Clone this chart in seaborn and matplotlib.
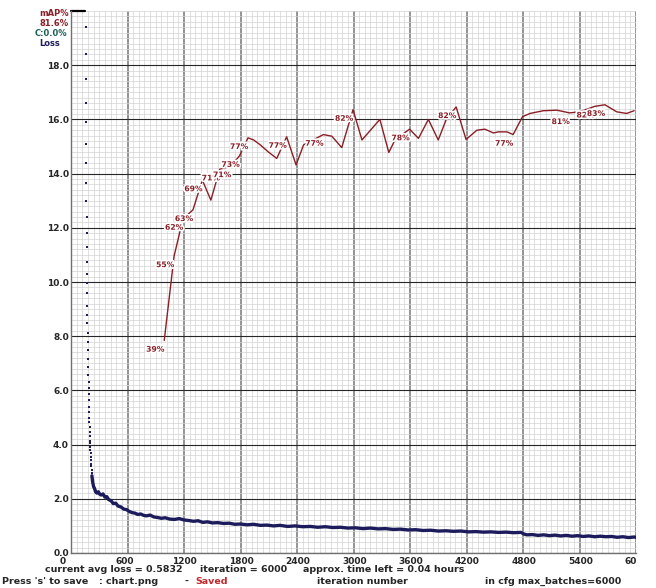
import numpy as np
import pandas as pd
import seaborn as sns
import matplotlib.pyplot as plt
import matplotlib.patheffects as pe
from matplotlib.transforms import ScaledTranslation

# loss of the first iterations (drawn as single dots)
head_iters = [156, 157, 158, 159, 160, 161, 162, 163, 164, 165,
              166, 167, 168, 169, 170, 171, 173, 174, 175, 177,
              178, 180, 181, 183, 184, 186, 187, 189, 190, 192,
              193, 195, 196, 198, 199, 201, 202, 204, 205, 207,
              208, 210, 212, 214, 216, 218, 220]
head_loss = [19.4, 18.4, 17.5, 16.6, 15.9, 15.1, 14.4, 13.65, 13.0, 12.4,
             11.8, 11.3, 10.75, 10.3, 9.95, 9.6, 9.1, 8.8, 8.5, 8.1,
             7.8, 7.5, 7.15, 6.85, 6.55, 6.3, 6.1, 5.85, 5.65, 5.4,
             5.2, 5.0, 4.85, 4.65, 4.45, 4.3, 4.15, 4.05, 3.9, 3.8,
             3.7, 3.55, 3.45, 3.3, 3.2, 3.05, 2.95]

# loss curve after the fast drop
tail_iters = [222, 230, 240, 250, 262, 275, 290, 305, 320, 340,
              360, 380, 400, 425, 450, 475, 500, 530, 560, 590,
              620, 650, 680, 710, 740, 770, 800, 840, 880, 920,
              960, 1000, 1050, 1100, 1150, 1200, 1250, 1300, 1350, 1400,
              1450, 1500, 1560, 1620, 1680, 1740, 1800, 1870, 1940, 2010,
              2080, 2150, 2220, 2300, 2380, 2460, 2540, 2620, 2700, 2780,
              2860, 2940, 3020, 3100, 3180, 3260, 3340, 3420, 3500, 3580,
              3660, 3740, 3820, 3900, 3980, 4060, 4140, 4220, 4300, 4380,
              4460, 4540, 4620, 4700, 4780, 4810, 4840, 4900, 4960, 5020,
              5080, 5140, 5200, 5260, 5320, 5380, 5440, 5500, 5560, 5620,
              5680, 5740, 5800, 5860, 5920, 5980, 6000]
tail_loss = [2.85, 2.62, 2.45, 2.38, 2.25, 2.21, 2.26, 2.17, 2.14, 2.18,
             2.06, 2.08, 1.97, 1.93, 1.82, 1.84, 1.73, 1.70, 1.62, 1.60,
             1.53, 1.49, 1.47, 1.42, 1.44, 1.39, 1.37, 1.40, 1.33, 1.31,
             1.28, 1.30, 1.25, 1.24, 1.27, 1.22, 1.20, 1.17, 1.19, 1.13,
             1.15, 1.11, 1.12, 1.09, 1.10, 1.06, 1.07, 1.04, 1.06, 1.02,
             1.03, 1.00, 1.02, 0.98, 1.00, 0.97, 0.98, 0.95, 0.97, 0.94,
             0.95, 0.92, 0.93, 0.90, 0.92, 0.89, 0.90, 0.87, 0.88, 0.85,
             0.86, 0.83, 0.84, 0.81, 0.82, 0.80, 0.81, 0.78, 0.79, 0.77,
             0.78, 0.76, 0.77, 0.75, 0.76, 0.70, 0.67, 0.68, 0.65, 0.67,
             0.64, 0.66, 0.63, 0.65, 0.62, 0.64, 0.61, 0.63, 0.60, 0.62,
             0.60, 0.61, 0.58, 0.60, 0.57, 0.59, 0.58]

# mAP (%) evaluations
map_iters = [990, 1095, 1190, 1295, 1395, 1485, 1580, 1700, 1790, 1880,
             1940, 2010, 2095, 2185, 2290, 2390, 2470, 2680, 2770, 2875,
             2995, 3090, 3280, 3375, 3440, 3595, 3690, 3795, 3900, 3985,
             4090, 4195, 4310, 4395, 4485, 4540, 4630, 4695, 4795, 4875,
             5015, 5160, 5295, 5405, 5560, 5670, 5795, 5900, 5980]
map_vals = [39.2, 54.8, 61.7, 63.3, 68.8, 65.1, 70.8, 71.4, 73.3, 76.6,
            76.2, 75.3, 74.0, 72.8, 76.8, 71.6, 75.3, 77.2, 76.9, 74.8,
            81.8, 76.2, 80.0, 73.9, 76.2, 78.2, 76.5, 80.0, 76.2, 80.0,
            82.3, 76.3, 78.0, 78.2, 77.5, 77.7, 77.7, 77.2, 80.5, 81.1,
            81.6, 81.7, 81.2, 81.4, 82.4, 82.7, 81.4, 81.1, 81.6]
# which evaluations got a text label on the chart
map_label_idx = [0, 1, 2, 3, 4, 6, 7, 8, 9, 14, 17, 20, 25, 30, 37, 42, 44, 45]

x_ticks = [0, 600, 1200, 1800, 2400, 3000, 3600, 4200, 4800, 5400, 6000]
x_ticklabels = ['0', '600', '1200', '1800', '2400', '3000', '3600', '4200',
                '4800', '5400', '60']
y_ticks = [0, 2, 4, 6, 8, 10, 12, 14, 16, 18]
y_ticklabels = ['0.0', '2.0', '4.0', '6.0', '8.0', '10.0', '12.0', '14.0',
                '16.0', '18.0']

LOSS_C = '#1c1c5c'
MAP_C = '#8a1e26'

sns.set_style('white')
plt.rcParams['font.family'] = ['DejaVu Sans']

W, H = 656, 588
fig = plt.figure(figsize=(W / 100, H / 100), dpi=100)
ax = fig.add_axes([71 / W, 1 - 553 / H, (636 - 71) / W, (553 - 11) / H])

ax.set_xlim(0, 6000)
ax.set_ylim(0, 20)
ax.set_xticks(x_ticks)
ax.set_xticks(np.arange(0, 6001, 60), minor=True)
ax.set_yticks(y_ticks)
ax.set_yticks(np.arange(0, 20.01, 0.2), minor=True)
ax.grid(which='minor', color='#d3d3d3', lw=0.5)
ax.grid(which='major', axis='x', color='#767676', lw=1.1)
ax.grid(which='major', axis='y', color='#262626', lw=0.8)
ax.set_axisbelow(True)
for s in ['top', 'right']:
    ax.spines[s].set_visible(False)
for s in ['left', 'bottom']:
    ax.spines[s].set_color('#707070')
    ax.spines[s].set_linewidth(1.0)

ax.set_xticklabels(x_ticklabels, fontsize=6.5, fontweight='bold', ha='left')
ax.set_yticklabels(y_ticklabels, fontsize=6.5, fontweight='bold')
ax.tick_params(which='both', length=0)
ax.tick_params(axis='x', pad=3)
ax.tick_params(axis='y', pad=1.5)
shift = ScaledTranslation(-11.5 / 100, 0, fig.dpi_scale_trans)
for lab in ax.get_xticklabels():
    lab.set_transform(lab.get_transform() + shift)
ax.set_xlabel('')
ax.set_ylabel('')

# short black mark at the top of the axis
ax.axhline(20, xmin=0, xmax=0.024, color='black', lw=1.6, clip_on=False)

# loss
sns.scatterplot(x=head_iters, y=head_loss, ax=ax, color=LOSS_C, s=4,
                marker='s', linewidth=0)
sns.lineplot(x=tail_iters, y=tail_loss, ax=ax, color=LOSS_C, lw=2.4)

# mAP on its own 0-100 scale
ax2 = ax.twinx()
ax2.set_ylim(0, 100)
ax2.set_yticks([])
for s in ax2.spines.values():
    s.set_visible(False)
sns.lineplot(x=map_iters, y=map_vals, ax=ax2, color=MAP_C, lw=1.0)
for i in map_label_idx:
    ax2.annotate(f'{map_vals[i]:.0f}%', (map_iters[i], map_vals[i]),
                 xytext=(-13, -8), textcoords='offset points',
                 ha='left', va='baseline', fontsize=5.5, fontweight='bold',
                 color=MAP_C,
                 path_effects=[pe.withStroke(linewidth=2.5, foreground='white')])
ax2.set_ylabel('')


def ftext(x, y, s, **kw):
    kw.setdefault('fontsize', 6.8)
    kw.setdefault('fontweight', 'bold')
    kw.setdefault('va', 'center')
    fig.text(x / W, 1 - y / H, s, **kw)


ftext(39, 14, 'mAP%', color=MAP_C, fontsize=6)
ftext(39, 23, '81.6%', color=MAP_C, fontsize=6)
ftext(35, 33, 'C:0.0%', color='#1d5e5a', fontsize=6)
ftext(39, 43, 'Loss', color=LOSS_C, fontsize=6)

ftext(45, 570, 'current avg loss = 0.5832')
ftext(200, 570, 'iteration = 6000')
ftext(303, 570, 'approx. time left = 0.04 hours')
ftext(2, 581, "Press 's' to save")
ftext(99, 581, ': chart.png')
ftext(184, 581, '-')
ftext(195, 581, 'Saved', color='#c0282d')
ftext(317, 581, 'iteration number')
ftext(485, 581, 'in cfg max_batches=6000')

fig.savefig('out.png', dpi=100, facecolor='white')
